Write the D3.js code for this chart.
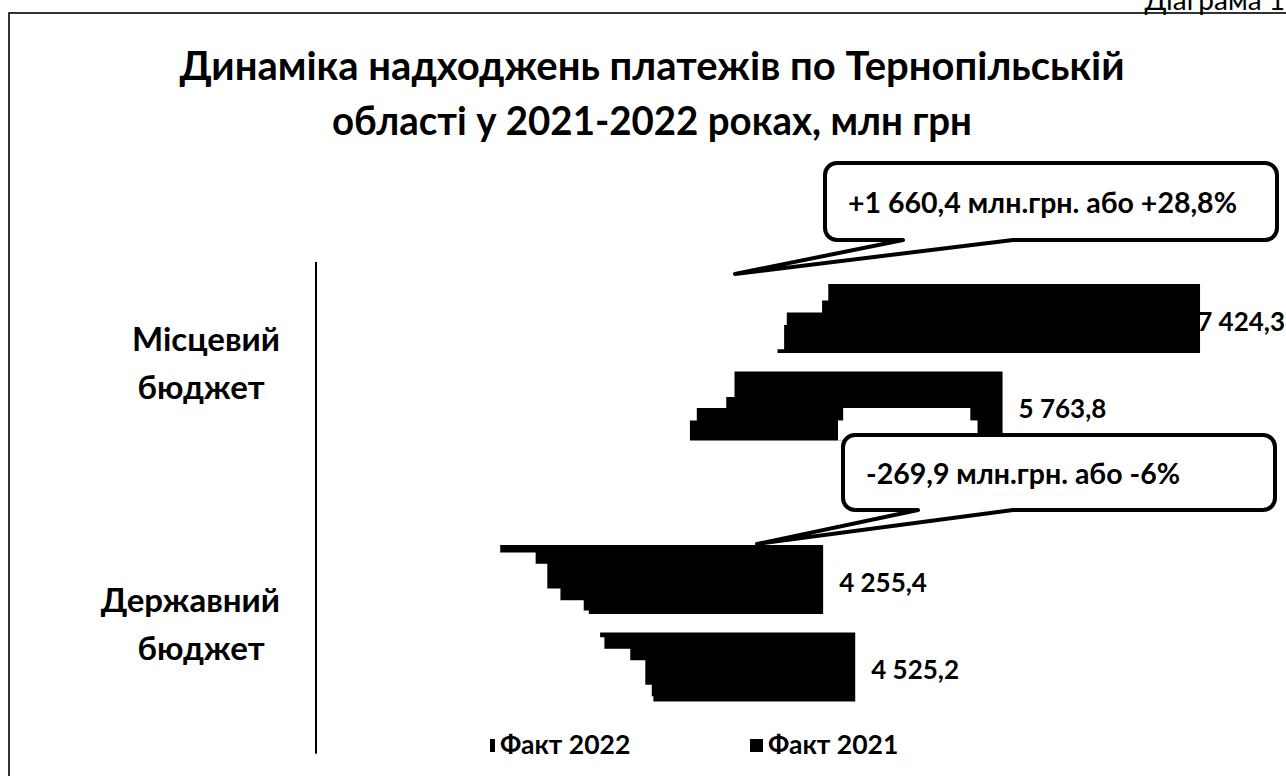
<!DOCTYPE html>
<html>
<head>
<meta charset="utf-8">
<script src="https://cdn.jsdelivr.net/npm/d3@7"></script>
<style>
  html, body { margin: 0; padding: 0; background: #fff; }
  svg { display: block; font-family: Lato, "Open Sans", sans-serif; }
</style>
</head>
<body>
<svg id="chart" width="1286" height="776"></svg>
<script>
// ---------- DATA ----------
const categories = ["Місцевий бюджет", "Державний бюджет"];
const categoryLines = [["Місцевий", "бюджет"], ["Державний", "бюджет"]];
const seriesNames = ["Факт 2022", "Факт 2021"];
const fact2022 = [7424.3, 4255.4];
const fact2021 = [5763.8, 4525.2];
const titleLines = ["Динаміка надходжень платежів по Тернопільській", "області у 2021-2022 роках, млн грн"];
const annotationTexts = ["+1 660,4 млн.грн. або +28,8%", "-269,9 млн.грн. або -6%"];
const cornerNote = "Діаграма 1";

// ---------- STYLE (rendering artefacts of the original: stepped left edges) ----------
// each step: [fraction of bar height where step begins, fraction of bar length where black begins]
const stepStyle = {
  "Місцевий бюджет|Факт 2022": [[0, 0.579], [0.238, 0.572], [0.414, 0.532], [0.595, 0.529], [0.943, 0.5215]],
  "Місцевий бюджет|Факт 2021": [[0, 0.609], [0.368, 0.597], [0.528, 0.554], [0.708, 0.544]],
  "Державний бюджет|Факт 2022": [[0, 0.362], [0.11, 0.432], [0.27, 0.455], [0.63, 0.481], [0.8, 0.527], [0.95, 0.537]],
  "Державний бюджет|Факт 2021": [[0, 0.526], [0.067, 0.534], [0.233, 0.582], [0.4, 0.610], [0.757, 0.622], [0.924, 0.625]]
};
// white notches: [x0 frac, x1 frac, y0 frac, y1 frac]
const notchStyle = {
  "Місцевий бюджет|Факт 2021": [[0.7675, 0.953, 0.528, 1], [0.760, 0.9635, 0.708, 1]]
};

const W = 1286, H = 776;
const svg = d3.select("#chart");
const fmt = d3.formatLocale({decimal: ",", thousands: " ", grouping: [3]}).format(",.1f");

// frame
svg.append("rect").attr("x", 9).attr("y", 13).attr("width", 1300).attr("height", 800)
  .attr("fill", "none").attr("stroke", "#000").attr("stroke-width", 1.6);

svg.append("text").attr("x", 1285).attr("y", 10).attr("text-anchor", "end")
  .attr("font-size", 28).attr("fill", "#000").text(cornerNote);

// title
svg.append("g").selectAll("text").data(titleLines).join("text")
  .attr("x", 652).attr("y", (d, i) => 80 + i * 55)
  .attr("text-anchor", "middle").attr("font-weight", "bold").attr("font-size", 40)
  .attr("fill", "#000").text(d => d)
  .each(function(d, i) {
    if (i === 1) d3.select(this).attr("textLength", 640).attr("lengthAdjust", "spacingAndGlyphs");
  });

// scales
const x = d3.scaleLinear().domain([0, 8000]).range([317, 317 + 0.11894 * 8000]);
const y0 = d3.scaleBand().domain(categories).range([231.8, 753.8]).paddingInner(0.4).paddingOuter(0.2);
const y1 = d3.scaleBand().domain(seriesNames).range([0, y0.bandwidth()]).paddingInner(0.211).paddingOuter(0);

const rows = [];
categories.forEach((c, i) => {
  rows.push({cat: c, series: seriesNames[0], value: fact2022[i]});
  rows.push({cat: c, series: seriesNames[1], value: fact2021[i]});
});

function barPath(d) {
  const top = y0(d.cat) + y1(d.series);
  const h = y1.bandwidth();
  const xEnd = x(d.value);
  const steps = stepStyle[d.cat + "|" + d.series] || [[0, 0]];
  const p = d3.path();
  p.moveTo(xEnd, top);
  p.lineTo(xEnd, top + h);
  for (let i = steps.length - 1; i >= 0; i--) {
    const xs = x(d.value * steps[i][1]);
    const yBottom = i === steps.length - 1 ? top + h : top + h * steps[i + 1][0];
    p.lineTo(xs, yBottom);
    p.lineTo(xs, top + h * steps[i][0]);
  }
  p.closePath();
  return p.toString();
}

const gBars = svg.append("g");
gBars.selectAll("path").data(rows).join("path")
  .attr("d", barPath).attr("fill", "#000");

// notches
rows.forEach(d => {
  const n = notchStyle[d.cat + "|" + d.series];
  if (!n) return;
  const top = y0(d.cat) + y1(d.series), h = y1.bandwidth();
  n.forEach(r => {
    gBars.append("rect")
      .attr("x", x(d.value * r[0])).attr("width", x(d.value * r[1]) - x(d.value * r[0]))
      .attr("y", top + h * r[2]).attr("height", h * (r[3] - r[2]))
      .attr("fill", "#fff");
  });
});

// axis line
svg.append("line").attr("x1", 316).attr("x2", 316).attr("y1", 262).attr("y2", y0.range()[1])
  .attr("stroke", "#000").attr("stroke-width", 2);

// category labels
const gCat = svg.append("g").attr("font-weight", "bold").attr("font-size", 33).attr("fill", "#000");
categories.forEach((c, i) => {
  const cy = y0(c) + y0.bandwidth() / 2;
  gCat.append("text").attr("x", 280).attr("y", cy - 11).attr("text-anchor", "end").text(categoryLines[i][0]);
  gCat.append("text").attr("x", 201).attr("y", cy + 37).attr("text-anchor", "middle").text(categoryLines[i][1]);
});

// callouts
const callouts = [
  {cat: categories[0], text: annotationTexts[0], box: {x: 825, y: 163, w: 452, h: 77}, base: [903, 1013], tip: [735, -10]},
  {cat: categories[1], text: annotationTexts[1], box: {x: 843, y: 435, w: 432, h: 75}, base: [918, 1013], tip: [757, -1]}
];
function calloutPath(c) {
  const {x: bx, y: by, w, h} = c.box, r = 12;
  const tipY = y0(c.cat) + y1(seriesNames[0]) + c.tip[1];
  const p = d3.path();
  p.moveTo(bx + r, by);
  p.lineTo(bx + w - r, by);
  p.arcTo(bx + w, by, bx + w, by + r, r);
  p.lineTo(bx + w, by + h - r);
  p.arcTo(bx + w, by + h, bx + w - r, by + h, r);
  p.lineTo(c.base[1], by + h);
  p.lineTo(c.tip[0], tipY);
  p.lineTo(c.base[0], by + h);
  p.lineTo(bx + r, by + h);
  p.arcTo(bx, by + h, bx, by + h - r, r);
  p.lineTo(bx, by + r);
  p.arcTo(bx, by, bx + r, by, r);
  p.closePath();
  return p.toString();
}
const gCall = svg.append("g");
callouts.forEach(c => {
  gCall.append("path").attr("d", calloutPath(c)).attr("fill", "#fff")
    .attr("stroke", "#000").attr("stroke-width", 4).attr("stroke-linejoin", "round");
  gCall.append("text").attr("x", c.box.x + 23).attr("y", c.box.y + c.box.h / 2)
    .attr("dominant-baseline", "central").attr("font-weight", "bold").attr("font-size", 28.5)
    .attr("fill", "#000").text(c.text);
});

// value labels
const gVal = svg.append("g").attr("font-weight", "bold").attr("font-size", 26).attr("fill", "#000");
rows.forEach(d => {
  const t = gVal.append("text")
    .attr("y", y0(d.cat) + y1(d.series) + y1.bandwidth() / 2 + 2)
    .attr("dominant-baseline", "central").text(fmt(d.value));
  const wText = t.node().getComputedTextLength();
  t.attr("x", Math.min(x(d.value) + 16, W - 1 - wText));
});

// legend
const legend = [
  {name: seriesNames[0], mx: 490, mw: 5, tx: 500},
  {name: seriesNames[1], mx: 750, mw: 13, tx: 768}
];
const gLeg = svg.append("g");
legend.forEach(l => {
  gLeg.append("rect").attr("x", l.mx).attr("y", 739).attr("width", l.mw).attr("height", 13).attr("fill", "#000");
  gLeg.append("text").attr("x", l.tx).attr("y", 754).attr("font-weight", "bold").attr("font-size", 26.5)
    .attr("fill", "#000").text(l.name);
});
</script>
</body>
</html>
